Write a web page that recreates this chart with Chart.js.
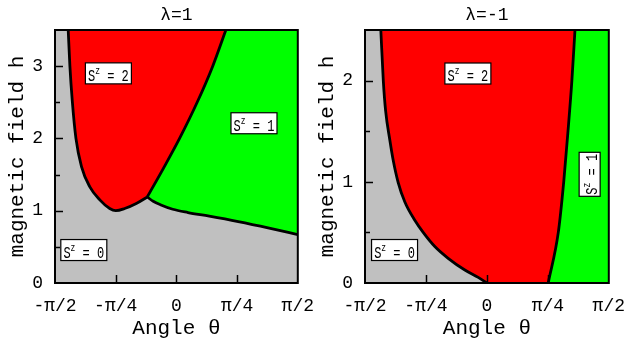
<!DOCTYPE html>
<html><head><meta charset="utf-8">
<script src="https://cdn.jsdelivr.net/npm/chart.js@4.4.1/dist/chart.umd.min.js"></script>
<style>
html,body{margin:0;padding:0;background:#fff;}
#wrap{position:relative;width:625px;height:344px;overflow:hidden;}
canvas{position:absolute;top:0;}
</style></head><body>
<div id="wrap">
<canvas id="c1" width="326" height="344" style="left:0px"></canvas>
<canvas id="c2" width="327" height="344" style="left:310px"></canvas>
</div>
<script>
// ---- axis ticks ----
const thetaTicks = [-Math.PI/2, -Math.PI/4, 0, Math.PI/4, Math.PI/2];
const thetaTickLabels = ['-π/2', '-π/4', '0', 'π/4', 'π/2'];
const xTitle = 'Angle θ';
const yTitle = 'magnetic field h';

// ---- λ = 1 panel ----
const l1Title = 'λ=1';
const l1YMax = 3.5;
// boundary S^z=2 / S^z=0
const l1_s2s0_theta = [-1.400, -1.378, -1.348, -1.300, -1.228, -1.120, -0.991, -0.863, -0.785, -0.669, -0.519, -0.377];
const l1_s2s0_h     = [ 3.50,   3.00,   2.53,   2.00,   1.61,   1.33,   1.15,   1.03,   1.00,   1.03,   1.10,   1.19];
// boundary S^z=2 / S^z=1
const l1_s2s1_theta = [-0.377, -0.161, 0.041, 0.269, 0.470, 0.640];
const l1_s2s1_h     = [ 1.19,   1.60,  2.00,  2.50,  3.00,  3.50];
// boundary S^z=1 / S^z=0
const l1_s1s0_theta = [-0.377, -0.300, -0.200, -0.047, 0.150, 0.425, 0.800, 1.200, 1.571];
const l1_s1s0_h     = [ 1.19,   1.13,   1.08,   1.02,  0.975, 0.925, 0.85,  0.76,  0.67];
const l1_labels_n     = ['2', '1', '0'];
const l1_labels_theta = [-0.88, 1.004, -1.198];
const l1_labels_h     = [2.90, 2.21, 0.456];
const l1_labels_rot   = [false, false, false];

// ---- λ = -1 panel ----
const lm1Title = 'λ=-1';
const lm1YMax = 2.5;
// boundary S^z=2 / S^z=0
const lm1_s2s0_theta = [-1.367, -1.335, -1.305, -1.251, -1.208, -1.144, -1.057, -0.929, -0.821, -0.671, -0.499, -0.284, -0.112, 0.000];
const lm1_s2s0_h     = [ 2.50,   2.00,   1.70,   1.413,  1.215,  0.995,  0.80,   0.62,   0.50,   0.36,   0.244,  0.128,  0.056, 0.000];
// boundary S^z=2 / S^z=1
const lm1_s2s1_theta = [0.790, 0.920, 0.990, 1.045, 1.095, 1.135];
const lm1_s2s1_h     = [0.00,  0.50,  1.00,  1.50,  2.00,  2.50];
const lm1_labels_n     = ['2', '0', '1'];
const lm1_labels_theta = [-0.245, -1.19, 1.324];
const lm1_labels_h     = [2.07, 0.326, 1.074];
const lm1_labels_rot   = [false, false, true];

// ---- style ----
const FONT = "'Liberation Mono', 'DejaVu Sans Mono', monospace";
const RED = '#ff0000', GREEN = '#00ff00', GRAY = '#c0c0c0';

const pts = (xs, ys) => xs.map((x, i) => ({x: x, y: ys[i]}));

function fillDs(data, color, fill, order) {
  return {data, backgroundColor: color, borderWidth: 0, borderColor: 'rgba(0,0,0,0)',
    fill, pointRadius: 0, cubicInterpolationMode: 'monotone', order};
}
function lineDs(data) {
  return {data, borderColor: '#000', borderWidth: 2.8, fill: false, pointRadius: 0,
    cubicInterpolationMode: 'monotone', order: 0};
}

const panelPlugin = {
  id: 'panel',
  beforeDraw(chart) {
    const {ctx, chartArea: a} = chart;
    ctx.save();
    ctx.fillStyle = GRAY;
    ctx.fillRect(a.left, a.top, a.right - a.left, a.bottom - a.top);
    ctx.restore();
  },
  afterDatasetsDraw(chart) {
    const {ctx, chartArea: a, scales: {x, y}} = chart;
    const o = chart.options.plugins.panel;
    ctx.save();
    ctx.strokeStyle = '#000';
    ctx.lineWidth = 1.5;
    ctx.beginPath();
    x.ticks.forEach(t => {
      if (t.value <= x.min + 1e-9 || t.value >= x.max - 1e-9) return;
      const px = Math.round(x.getPixelForValue(t.value)) + 0.5;
      ctx.moveTo(px, a.bottom); ctx.lineTo(px, a.bottom - 8);
    });
    y.ticks.forEach(t => {
      if (t.value <= y.min + 1e-9 || t.value >= y.max - 1e-9) return;
      const py = Math.round(y.getPixelForValue(t.value)) + 0.5;
      const len = Number.isInteger(t.value) ? 8 : 5;
      ctx.moveTo(a.left, py); ctx.lineTo(a.left + len, py);
    });
    ctx.stroke();
    ctx.lineWidth = 2;
    ctx.strokeRect(a.left, a.top, a.right - a.left, a.bottom - a.top);

    // region labels
    o.labels.forEach(l => {
      const cx = x.getPixelForValue(l.theta), cy = y.getPixelForValue(l.h);
      ctx.save();
      ctx.translate(cx, cy);
      if (l.rot) ctx.rotate(-Math.PI / 2);
      const bw = l.rot ? 44 : 46, bh = 21;
      ctx.fillStyle = '#fff';
      ctx.fillRect(-bw / 2, -bh / 2, bw, bh);
      ctx.lineWidth = 1.2;
      ctx.strokeStyle = '#000';
      ctx.strokeRect(-bw / 2, -bh / 2, bw, bh);
      ctx.fillStyle = '#000';
      ctx.textBaseline = 'alphabetic';
      ctx.textAlign = 'left';
      const big = '12px ' + FONT, small = '8px ' + FONT;
      ctx.font = big; const wS = ctx.measureText('S').width;
      const rest = ' = ' + l.n; const wR = ctx.measureText(rest).width;
      ctx.font = small; const wz = ctx.measureText('z').width;
      const total = wS + wz + wR;
      let sx = -total / 2;
      const k = 1.35;
      ctx.save();
      ctx.scale(1, k);
      ctx.font = big;
      ctx.fillText('S', sx, 7.8 / k);
      ctx.font = small;
      ctx.fillText('z', sx + wS, 0.5 / k);
      ctx.font = big;
      ctx.fillText(rest, sx + wS + wz, 7.8 / k);
      ctx.restore();
      ctx.restore();
    });

    // panel title
    ctx.fillStyle = '#000';
    ctx.font = '18px ' + FONT;
    ctx.textAlign = 'center';
    ctx.textBaseline = 'middle';
    ctx.fillText(o.title, (a.left + a.right) / 2, 15);
    ctx.restore();
  }
};

function makeChart(id, cfg) {
  return new Chart(document.getElementById(id), {
    type: 'line',
    data: {datasets: cfg.datasets},
    options: {
      responsive: false,
      animation: false,
      events: [],
      layout: {autoPadding: false, padding: {top: 30, right: 0, left: 0, bottom: 0}},
      plugins: {
        legend: {display: false},
        tooltip: {enabled: false},
        title: {display: false},
        filler: {propagate: false},
        panel: {title: cfg.title, labels: cfg.labels}
      },
      scales: {
        x: {
          type: 'linear', min: -Math.PI / 2, max: Math.PI / 2,
          afterBuildTicks: s => { s.ticks = thetaTicks.map(v => ({value: v})); },
          ticks: {
            callback: v => { const i = thetaTicks.findIndex(t => Math.abs(t - v) < 1e-9); return i >= 0 ? thetaTickLabels[i] : ''; },
            font: {family: FONT, size: 18}, color: '#000', padding: 12,
            maxRotation: 0, minRotation: 0, autoSkip: false
          },
          grid: {display: false, drawTicks: false}, border: {display: false},
          title: {display: true, text: xTitle, color: '#000', font: {family: FONT, size: 21}, padding: {top: 0, bottom: 3}},
          afterFit: s => { s.height = 61; }
        },
        y: {
          type: 'linear', min: 0, max: cfg.yMax,
          ticks: {
            stepSize: 0.5,
            callback: v => Number.isInteger(v) ? String(v) : '',
            font: {family: FONT, size: 18}, color: '#000', padding: 12, autoSkip: false
          },
          grid: {display: false, drawTicks: false}, border: {display: false},
          title: {display: true, text: yTitle, color: '#000', font: {family: FONT, size: 21}, padding: {top: 5, bottom: 0}},
          afterFit: s => { s.width = 55; }
        }
      }
    },
    plugins: [panelPlugin]
  });
}

// λ = 1
const l1Red = pts(l1_s2s0_theta, l1_s2s0_h).concat(pts(l1_s2s1_theta, l1_s2s1_h).slice(1));
makeChart('c1', {
  title: l1Title, yMax: l1YMax,
  datasets: [
    lineDs(pts(l1_s2s0_theta, l1_s2s0_h)),
    lineDs(pts(l1_s2s1_theta, l1_s2s1_h)),
    lineDs(pts(l1_s1s0_theta, l1_s1s0_h)),
    fillDs(l1Red, RED, 'end', 1),
    fillDs(pts(l1_s1s0_theta, l1_s1s0_h), GREEN, 'end', 2)
  ],
  labels: l1_labels_n.map((n, i) => ({n, theta: l1_labels_theta[i], h: l1_labels_h[i], rot: l1_labels_rot[i]}))
});

// λ = -1
const lm1Red = pts(lm1_s2s0_theta, lm1_s2s0_h).concat([{x: Math.PI / 2, y: 0}]);
const lm1Green = pts(lm1_s2s1_theta, lm1_s2s1_h).concat([{x: Math.PI / 2, y: lm1YMax}]);
makeChart('c2', {
  title: lm1Title, yMax: lm1YMax,
  datasets: [
    lineDs(pts(lm1_s2s0_theta, lm1_s2s0_h)),
    lineDs(pts(lm1_s2s1_theta, lm1_s2s1_h)),
    fillDs(lm1Green, GREEN, 'start', 1),
    fillDs(lm1Red, RED, 'end', 2)
  ],
  labels: lm1_labels_n.map((n, i) => ({n, theta: lm1_labels_theta[i], h: lm1_labels_h[i], rot: lm1_labels_rot[i]}))
});
</script>
</body></html>
